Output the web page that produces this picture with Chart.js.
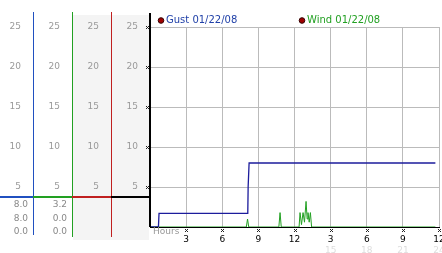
<!DOCTYPE html>
<html>
<head>
<meta charset="utf-8">
<script src="https://cdn.jsdelivr.net/npm/chart.js@4.4.1/dist/chart.umd.min.js"></script>
<style>
  html, body { margin: 0; padding: 0; background: #fff; overflow: hidden; }
  #wrap { width: 442px; height: 253px; position: relative; }
</style>
</head>
<body>
<div id="wrap"><canvas id="c" width="442" height="253"></canvas></div>
<script>
// ── data ──────────────────────────────────────────────────────
const seriesNames = ['Gust 01/22/08', 'Wind 01/22/08'];

const gustHours = [0, 0.7, 0.75, 8.12, 8.15, 8.23, 23.7];
const gustMph   = [0, 0,   1.7,  1.7,  5.0,  8.0,  8.0];

const windHours = [0, 8.0, 8.1, 8.2, 10.7, 10.8, 10.9, 12.38, 12.46, 12.58, 12.71, 12.83, 12.96, 13.05, 13.12, 13.22, 13.32, 13.42, 23.7];
const windMph   = [0, 0,   1.0, 0,   0,    1.8,  0,    0,     1.8,   0.3,   1.8,   0.6,   3.2,   1.0,   1.8,   0.6,   1.8,   0,     0];

const hourTicks  = [3, 6, 9, 12, 15, 18, 21, 24];
const hourLabels = ['3', '6', '9', '12', '3', '6', '9', '12'];
const lateTicks  = [15, 18, 21, 24];
const mphTicks   = [5, 10, 15, 20, 25];

const gustStats = ['8.0', '8.0', '0.0'];
const windStats = ['3.2', '0.0', '0.0'];

const FONT = 'DejaVu Sans';
const GUST = '#1c1c9c', WIND = '#22a022';

// ── helpers ───────────────────────────────────────────────────
const setTicks = list => scale => { scale.ticks = list.map(v => ({ value: v })); };
const noPad = s => { s.paddingLeft = s.paddingRight = s.paddingTop = s.paddingBottom = 0; };

function sideAxis(weight, width) {
  return {
    type: 'linear', position: 'left', min: 0, max: 25, weight,
    afterBuildTicks: setTicks(mphTicks),
    afterFit: s => { s.width = width; noPad(s); },
    grid: { display: false, drawTicks: false },
    border: { display: false },
    ticks: { color: '#999', font: { family: FONT, size: 9 }, padding: 12 },
  };
}

function mark(ctx, x, y) {
  x = Math.round(x); y = Math.round(y);
  ctx.fillStyle = '#222';
  [[-1,-1],[1,-1],[0,0],[-1,1],[1,1]].forEach(([dx,dy]) => ctx.fillRect(x+dx, y+dy, 1, 1));
}

// ── left panel, legend, tick marks ────────────────────────────
const panel = {
  id: 'panel',
  beforeDraw(chart) {
    const { ctx, scales } = chart;
    ctx.save();
    ctx.fillStyle = '#f4f4f4';
    ctx.fillRect(scales.y2.left + 1, 15, scales.y.right - scales.y2.left - 2, 225);
    ctx.restore();
  },
  afterDraw(chart) {
    const { ctx, scales, chartArea } = chart;
    const cols = [scales.y0, scales.y1, scales.y2, scales.y];
    const colColors = ['#2050c0', '#22a022', '#c02020', '#000'];
    const sepY = chartArea.bottom - 31;
    ctx.save();

    // vertical column lines
    [[scales.y0, '#2050c0', 235], [scales.y1, '#22a022', 237], [scales.y2, '#c02020', 237]].forEach(([s, c, end]) => {
      ctx.fillStyle = c;
      ctx.fillRect(Math.round(s.right), 12, 1, end - 12);
    });
    ctx.fillStyle = '#000';
    ctx.fillRect(Math.round(chartArea.left) - 1, 13, 2, chartArea.bottom - 13);

    // coloured separator
    cols.forEach((s, i) => {
      ctx.fillStyle = colColors[i];
      ctx.fillRect(Math.round(s.left), sepY, Math.round(s.right) - Math.round(s.left) + 1, 2);
    });

    // min / max readouts
    ctx.font = `9px ${FONT}`;
    ctx.fillStyle = '#888';
    ctx.textAlign = 'right';
    ctx.textBaseline = 'middle';
    [gustStats, windStats].forEach((vals, c) => {
      vals.forEach((v, r) => ctx.fillText(v, cols[c].right - 5, sepY + 9 + r * 13.5));
    });

    // tick marks
    mphTicks.forEach(v => mark(ctx, chartArea.left - 3, scales.y.getPixelForValue(v)));
    hourTicks.forEach(v => mark(ctx, scales.x.getPixelForValue(v), chartArea.bottom + 3));

    // axis name
    ctx.textAlign = 'left';
    ctx.fillStyle = '#999';
    ctx.fillText('Hours', chartArea.left + 3, chartArea.bottom + 5);

    // legend
    ctx.font = `10px ${FONT}`;
    const legendX = [chartArea.left + 11, chartArea.left + 152];
    chart.data.datasets.forEach((ds, i) => {
      const x = legendX[i], y = 20.5;
      ctx.beginPath();
      ctx.arc(x, y, 2.8, 0, Math.PI * 2);
      ctx.fillStyle = '#a00000';
      ctx.fill();
      ctx.lineWidth = 1;
      ctx.strokeStyle = '#300';
      ctx.stroke();
      ctx.fillStyle = ds.labelColor;
      ctx.fillText(ds.label, x + 5, y);
    });
    ctx.restore();
  }
};

// ── chart ─────────────────────────────────────────────────────
new Chart(document.getElementById('c'), {
  type: 'line',
  data: {
    datasets: [
      {
        label: seriesNames[0], labelColor: '#2040a8',
        data: gustHours.map((h, i) => ({ x: h, y: gustMph[i] })),
        borderColor: GUST, borderWidth: 1.3, pointRadius: 0, tension: 0, fill: false,
      },
      {
        label: seriesNames[1], labelColor: WIND,
        data: windHours.map((h, i) => ({ x: h, y: windMph[i] })),
        borderColor: WIND, borderWidth: 1, pointRadius: 0, tension: 0, fill: false,
      },
    ]
  },
  options: {
    responsive: false, devicePixelRatio: 1, animation: false,
    layout: { padding: { top: 27, right: 3, left: 0, bottom: 0 } },
    plugins: { legend: { display: false }, tooltip: { enabled: false } },
    scales: {
      x: {
        type: 'linear', position: 'bottom', min: 0, max: 24, weight: 0,
        afterBuildTicks: setTicks(hourTicks),
        afterFit: s => { s.height = 17; noPad(s); },
        grid: { color: '#bbb', drawTicks: false },
        border: { color: '#000', width: 1 },
        ticks: {
          color: '#000', font: { family: FONT, size: 9 }, padding: 7, maxRotation: 0, autoSkip: false,
          callback: v => hourLabels[hourTicks.indexOf(v)],
        },
      },
      x2: {
        type: 'linear', position: 'bottom', min: 0, max: 24, weight: 1,
        afterBuildTicks: setTicks(lateTicks),
        afterFit: s => { s.height = 9; noPad(s); },
        grid: { display: false, drawTicks: false },
        border: { display: false },
        ticks: { color: '#ddd', font: { family: FONT, size: 9 }, padding: 1, maxRotation: 0, autoSkip: false },
      },
      y: {
        type: 'linear', position: 'left', min: 0, max: 25, weight: 0,
        afterBuildTicks: setTicks(mphTicks),
        afterFit: s => { s.width = 39; noPad(s); },
        grid: { color: '#bbb', drawTicks: false },
        border: { display: false },
        ticks: { color: '#999', font: { family: FONT, size: 9 }, padding: 12 },
      },
      y2: sideAxis(1, 39),
      y1: sideAxis(2, 39),
      y0: sideAxis(3, 33),
    }
  },
  plugins: [panel]
});
</script>
</body>
</html>
